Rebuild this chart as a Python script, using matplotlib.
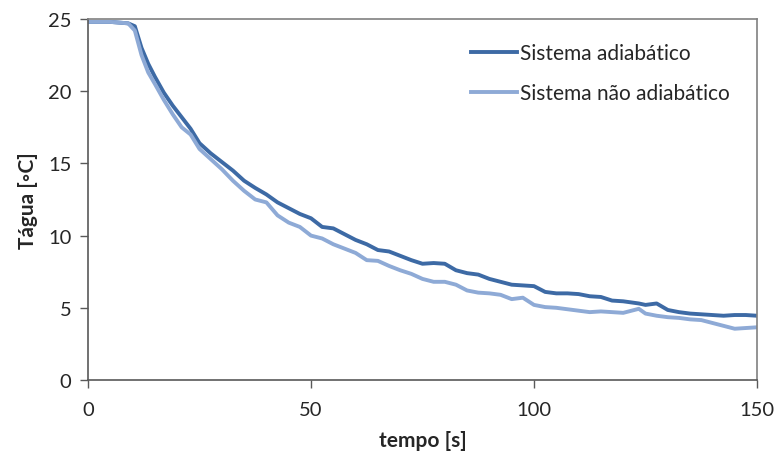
import matplotlib
matplotlib.use("Agg")
import matplotlib.pyplot as plt

plt.rcParams['font.family'] = ['Lato', 'DejaVu Sans']

# Time samples [s]
tempo = [0, 5, 9, 10.5, 12, 13.5, 15, 17, 19, 21, 23, 25, 27.5, 30, 32.5, 35,
         37.5, 40, 42.5, 45, 47.5, 50, 52.5, 55, 57.5, 60, 62.5, 65, 67.5, 70,
         72.5, 75, 77.5, 80, 82.5, 85, 87.5, 90, 92.5, 95, 97.5, 100, 102.5,
         105, 107.5, 110, 112.5, 115, 117.5, 120, 123.5, 125, 127.5, 130,
         132.5, 135, 137.5, 140, 142.5, 145, 147.5, 150]

# Water temperature [°C], adiabatic system
t_adiabatico = [24.8, 24.8, 24.7, 24.5, 23.0, 21.9, 21.0, 19.9, 19.0, 18.2,
                17.4, 16.4, 15.7, 15.1, 14.5, 13.8, 13.3, 12.85, 12.3, 11.9,
                11.5, 11.2, 10.6, 10.5, 10.1, 9.7, 9.4, 9.0, 8.9, 8.6, 8.3,
                8.05, 8.1, 8.05, 7.6, 7.4, 7.3, 7.0, 6.8, 6.6, 6.55, 6.5, 6.1,
                6.0, 6.0, 5.95, 5.8, 5.75, 5.5, 5.45, 5.3, 5.2, 5.3, 4.85, 4.7,
                4.6, 4.55, 4.5, 4.45, 4.5, 4.5, 4.45]

# Water temperature [°C], non-adiabatic system
t_nao_adiabatico = [24.8, 24.8, 24.7, 24.2, 22.5, 21.3, 20.5, 19.4, 18.4,
                    17.5, 17.0, 16.0, 15.3, 14.6, 13.8, 13.1, 12.5, 12.3,
                    11.4, 10.9, 10.6, 10.0, 9.8, 9.4, 9.1, 8.8, 8.3, 8.25,
                    7.9, 7.6, 7.35, 7.0, 6.8, 6.8, 6.6, 6.2, 6.05, 6.0, 5.9,
                    5.6, 5.7, 5.2, 5.05, 5.0, 4.9, 4.8, 4.7, 4.75, 4.7, 4.65,
                    4.93, 4.6, 4.45, 4.35, 4.3, 4.2, 4.15, 3.95, 3.75, 3.55,
                    3.6, 3.65]

x_ticks = [0, 50, 100, 150]
y_ticks = [0, 5, 10, 15, 20, 25]

fig = plt.figure(figsize=(7.76, 4.60), dpi=100)
ax = fig.add_axes([88 / 776, 79 / 460, 669 / 776, 361 / 460])

ax.plot(tempo, t_adiabatico, color="#3D6AA5", lw=2.8,
        label="Sistema adiabático", solid_joinstyle="round")
ax.plot(tempo, t_nao_adiabatico, color="#8EAAD6", lw=2.8,
        label="Sistema não adiabático", solid_joinstyle="round")

ax.set_xlim(0, 150)
ax.set_ylim(0, 25)
ax.set_xticks(x_ticks)
ax.set_yticks(y_ticks)
ax.tick_params(direction="out", length=6, width=1, colors="#595959",
               labelcolor="#262626", labelsize=14.5)
ax.tick_params(axis="x", pad=9)
ax.tick_params(axis="y", pad=6)

for side in ("left", "bottom"):
    ax.spines[side].set_color("#595959")
for side in ("top", "right"):
    ax.spines[side].set_color("#808080")
for sp in ax.spines.values():
    sp.set_linewidth(1.2)

ax.set_xlabel("tempo [s]", fontsize=15, fontweight="bold", color="#262626",
              labelpad=9)
ax.set_ylabel("Tágua [◦C]", fontsize=15, fontweight="bold", color="#262626",
              labelpad=7)

ax.legend(loc="upper right", bbox_to_anchor=(0.987, 0.985), frameon=False,
          fontsize=15, handlelength=2.2, handletextpad=0.15,
          labelspacing=0.95, labelcolor="#262626")

fig.savefig("out.png", dpi=100)
